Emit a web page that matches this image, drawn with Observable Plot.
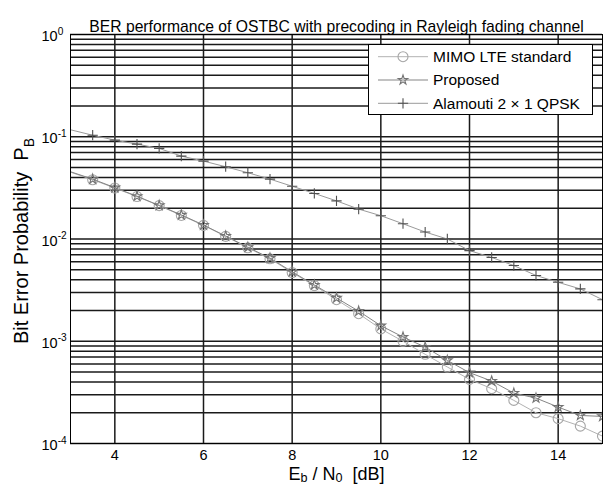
<!DOCTYPE html>
<html><head><meta charset="utf-8">
<script src="https://cdn.jsdelivr.net/npm/d3@7"></script>
<script src="https://cdn.jsdelivr.net/npm/@observablehq/plot@0.6"></script>
<style>
body{margin:0;background:#fff;font-family:"Liberation Sans",Arial,sans-serif;}
#wrap{position:relative;width:604px;height:488px;}
#legend{position:absolute;left:368px;top:44px;}
</style></head><body><div id="wrap"></div>
<script>
const ebno     = [3, 3.5, 4, 4.5, 5, 5.5, 6, 6.5, 7, 7.5, 8, 8.5, 9, 9.5, 10, 10.5, 11, 11.5, 12, 12.5, 13, 13.5, 14, 14.5, 15];
const mimoLte  = [0.0450, 0.0380, 0.0315, 0.0260, 0.0212, 0.0170, 0.0136, 0.0106, 0.0082, 0.0064, 0.0047, 0.0035, 0.00255, 0.00186, 0.00132, 0.00100, 0.000745, 0.000560, 0.000424, 0.000344, 0.000264, 0.000200, 0.000175, 0.000148, 0.000118];
const proposed = [0.0455, 0.0385, 0.0318, 0.0262, 0.0213, 0.0172, 0.0137, 0.0107, 0.0083, 0.0065, 0.00478, 0.00355, 0.00265, 0.00197, 0.00142, 0.00110, 0.000877, 0.000650, 0.000493, 0.000408, 0.000311, 0.000278, 0.000227, 0.000188, 0.000184];
const alamouti = [0.117, 0.1035, 0.0927, 0.0847, 0.0769, 0.0647, 0.0578, 0.0509, 0.0445, 0.0385, 0.0328, 0.0279, 0.0236, 0.0196, 0.0169, 0.0141, 0.0117, 0.0100, 0.0077, 0.0066, 0.0055, 0.0044, 0.00377, 0.00325, 0.00255];
const seriesNames = ["MIMO LTE standard", "Proposed", "Alamouti 2 \u00d7 1 QPSK"];
const xTicks = [4, 6, 8, 10, 12, 14];
const yMajor = [1e-4, 1e-3, 1e-2, 1e-1, 1];
const title  = "BER performance of OSTBC with precoding in Rayleigh fading channel";
const xLabel = "E_{b} / N_{0}  [dB]";
const yLabel = "Bit Error Probability  P_{B}";

const yGrid = d3.scaleLog().domain([1e-4, 1]).ticks();
const rows = ys => ebno.map((x, i) => ({x, y: ys[i]}));

const styles = [
  {line: "#b2b2b2", mark: "#a6a6a6", symbol: "circle", r: 5},
  {line: "#858585", mark: "#737373", symbol: "star", r: 3},
  {line: "#9a9a9a", mark: "#505050", symbol: "plus", r: 3.4}
];
const data = [mimoLte, proposed, alamouti];

const marks = [
  Plot.ruleY(yGrid, {stroke: "#1a1a1a", strokeWidth: 1.5}),
  Plot.ruleX(xTicks, {stroke: "#1a1a1a", strokeWidth: 1.5})
];
data.forEach((ys, i) => {
  const s = styles[i];
  marks.push(Plot.line(rows(ys), {x: "x", y: "y", stroke: s.line, strokeWidth: 1, clip: true}));
  marks.push(Plot.dot(rows(ys), {x: "x", y: "y", filter: d => d.x > 3, symbol: s.symbol, r: s.r, stroke: s.mark, fill: "none", strokeWidth: 1.1, clip: true}));
});
marks.push(
  Plot.frame({stroke: "#000", strokeWidth: 1}),
  Plot.axisX({ticks: xTicks, tickSize: 0, tickPadding: 6, label: null, fontSize: 14.5}),
  Plot.axisY({ticks: yMajor, tickSize: 0, tickPadding: 29, textAnchor: "start", dy: 2, label: null, fontSize: 14.5,
    tickFormat: d => `10^{${Math.round(Math.log10(d))}}`}),
  Plot.text([yLabel], {text: d => d, frameAnchor: "left", rotate: -90, dx: -49, dy: 2, fontSize: 20, textAnchor: "middle"}),
  Plot.text([xLabel], {text: d => d, frameAnchor: "bottom", dy: 36, fontSize: 18, textAnchor: "middle"}),
  Plot.text([title], {text: d => d, frameAnchor: "top", dy: -14, fontSize: 15.7, textAnchor: "middle"})
);

const chart = Plot.plot({
  width: 604, height: 488,
  marginLeft: 70, marginRight: 2, marginTop: 34, marginBottom: 45,
  style: {fontFamily: '"Liberation Sans", Arial, sans-serif', fontSize: "14px", background: "#fff", color: "#000"},
  x: {domain: [3, 15]},
  y: {type: "log", domain: [1e-4, 1]},
  marks
});

// rich text: ^{...} superscript, _{...} subscript
function richify(el, subShift) {
  const s = el.textContent;
  if (!/[\^_]\{/.test(s)) return;
  const fs = parseFloat(el.getAttribute("font-size")) || parseFloat(getComputedStyle(el).fontSize) || 14;
  while (el.firstChild) el.removeChild(el.firstChild);
  el.style.whiteSpace = "pre";
  const re = /([\^_])\{([^}]*)\}/g;
  let last = 0, m, pending = 0;
  const ns = "http://www.w3.org/2000/svg";
  const add = (txt, dy, size) => {
    const t = document.createElementNS(ns, "tspan");
    t.textContent = txt;
    if (dy) t.setAttribute("dy", dy);
    if (size) t.setAttribute("font-size", size);
    el.appendChild(t);
  };
  while ((m = re.exec(s))) {
    if (m.index > last) { add(s.slice(last, m.index), pending ? -pending : 0); pending = 0; }
    const shift = m[1] === "^" ? -0.45 * fs : subShift * fs;
    add(m[2], shift - pending, 0.7 * fs);
    pending = shift;
    last = re.lastIndex;
  }
  if (last < s.length) add(s.slice(last), pending ? -pending : 0);
}
document.getElementById("wrap").appendChild(chart);
chart.querySelectorAll("text").forEach(el => {
  const label = el.textContent;
  richify(el, label === xLabel ? 0.15 : 0.3);
  if (label === yLabel || label === xLabel || label === title) el.setAttribute("text-anchor", "middle");
});

// legend
const lg = d3.select("#wrap").append("svg").attr("id", "legend")
  .attr("width", 226).attr("height", 72);
lg.append("rect").attr("x", 0.5).attr("y", 0.5).attr("width", 224).attr("height", 70)
  .attr("fill", "#fff").attr("stroke", "#000");
const symMap = {circle: d3.symbolCircle, star: d3.symbolStar, plus: d3.symbolPlus};
seriesNames.forEach((name, i) => {
  const s = styles[i], cy = 12.7 + i * 23.3;
  lg.append("line").attr("x1", 10).attr("x2", 60).attr("y1", cy).attr("y2", cy)
    .attr("stroke", s.line).attr("stroke-width", 1);
  lg.append("path").attr("transform", `translate(35,${cy})`)
    .attr("d", d3.symbol(symMap[s.symbol], Math.PI * s.r * s.r)())
    .attr("fill", "none").attr("stroke", s.mark).attr("stroke-width", 1.1);
  lg.append("text").attr("x", 65).attr("y", cy).attr("dy", "0.35em")
    .attr("font-family", '"Liberation Sans", Arial, sans-serif').attr("font-size", 15.5)
    .text(name);
});
</script></body></html>
